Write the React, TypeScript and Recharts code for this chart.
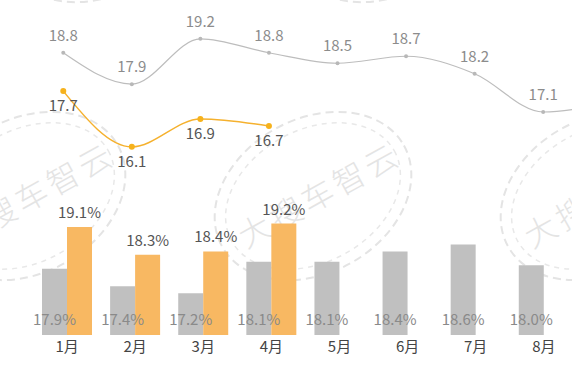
import React from "react";
import {
  ComposedChart,
  Bar,
  Line,
  XAxis,
  YAxis,
  LabelList,
} from "recharts";

// months (9月 sits just past the right edge, only its line is partly visible)
const months = ["1月", "2月", "3月", "4月", "5月", "6月", "7月", "8月", "9月"];
const visibleCount = 8;
const shownTicks = months.slice(0, visibleCount);
const lineGray = [18.8, 17.9, 19.2, 18.8, 18.5, 18.7, 18.2, 17.1, 17.4];
const lineOrange = [17.7, 16.1, 16.9, 16.7, null, null, null, null, null];
const barGray = [17.9, 17.4, 17.2, 18.1, 18.1, 18.4, 18.6, 18.0, null];
const barOrange = [19.1, 18.3, 18.4, 19.2, null, null, null, null, null];

const data = months.map((m, i) => ({
  month: m,
  lineGray: lineGray[i],
  lineGrayLabel: i < visibleCount ? lineGray[i] : null,
  lineOrange: lineOrange[i],
  barGray: barGray[i],
  barOrange: barOrange[i],
}));

const FONT = '"Noto Sans CJK SC", "Noto Sans", sans-serif';

// faint "大搜车智云" stamps in the background
const stamps = [
  { cx: 27, cy: 196, text: true },
  { cx: 313, cy: 196, text: true },
  { cx: 599, cy: 196, text: true },
  { cx: 100, cy: -82, text: false },
  { cx: 386, cy: -82, text: false },
  { cx: 672, cy: -82, text: false },
];

function Watermark() {
  return (
    <svg
      width={572}
      height={371}
      style={{ position: "absolute", left: 0, top: 0 }}
    >
      {stamps.map((s, i) => (
        <g key={i} transform={`translate(${s.cx},${s.cy}) rotate(-29)`}>
          <ellipse
            rx={104}
            ry={77}
            fill="none"
            stroke="#e4e4e4"
            strokeWidth={2}
            strokeDasharray="8 5"
          />
          <ellipse
            rx={93}
            ry={66}
            fill="none"
            stroke="#e8e8e8"
            strokeWidth={1.5}
            strokeDasharray="5 5"
          />
          {s.text && (
            <text
              x={6}
              y={0}
              textAnchor="middle"
              dominantBaseline="central"
              fontSize={32}
              letterSpacing={4}
              fill="#e4e4e4"
              fontFamily={FONT}
              fontWeight={300}
            >
              大搜车智云
            </text>
          )}
        </g>
      ))}
    </svg>
  );
}

const pct = (v: any) => (v == null ? "" : `${Number(v).toFixed(1)}%`);
const num = (v: any) => (v == null ? "" : Number(v).toFixed(1));

export default function App() {
  return (
    <div
      style={{
        position: "fixed",
        left: 0,
        top: 0,
        width: 572,
        height: 371,
        overflow: "hidden",
        background: "#fff",
        fontFamily: FONT,
      }}
    >
      <Watermark />
      <div style={{ position: "absolute", left: 0, top: 0 }}>
        <ComposedChart
          width={646}
          height={371}
          data={data}
          margin={{ top: 4, right: 0, bottom: 0, left: 29 }}
          barGap={0}
        >
          <XAxis
            xAxisId="bar"
            dataKey="month"
            padding={{ left: 4, right: 0 }}
            ticks={shownTicks}
            tickLine={false}
            axisLine={false}
            tickMargin={0}
            height={36}
            interval={0}
            tick={{ fill: "#444", fontSize: 15, fontFamily: FONT }}
          />
          <XAxis xAxisId="line" dataKey="month" hide />
          <YAxis yAxisId="bar" hide domain={[16, 25.5]} allowDataOverflow />
          <YAxis yAxisId="line" hide domain={[10.7, 20.2]} allowDataOverflow />

          <Bar
            xAxisId="bar"
            yAxisId="bar"
            dataKey="barGray"
            fill="#c0c0c0"
            barSize={25}
            isAnimationActive={false}
          >
            <LabelList
              dataKey="barGray"
              position="insideBottom"
              offset={10}
              formatter={pct}
              fill="#8a8a8a"
              fontSize={15}
              fontFamily={FONT}
            />
          </Bar>
          <Bar
            xAxisId="bar"
            yAxisId="bar"
            dataKey="barOrange"
            fill="#f8b862"
            barSize={25}
            isAnimationActive={false}
          >
            <LabelList
              dataKey="barOrange"
              position="top"
              offset={9}
              formatter={pct}
              fill="#555"
              fontSize={15}
              fontFamily={FONT}
            />
          </Bar>

          <Line
            xAxisId="line"
            yAxisId="line"
            type="monotone"
            dataKey="lineGray"
            stroke="#bdbdbd"
            strokeWidth={1.2}
            dot={{ r: 2, fill: "#b8b8b8", stroke: "none" }}
            activeDot={false}
            isAnimationActive={false}
          >
            <LabelList
              dataKey="lineGrayLabel"
              position="top"
              offset={12}
              formatter={num}
              fill="#8c8c8c"
              fontSize={15}
              fontFamily={FONT}
            />
          </Line>
          <Line
            xAxisId="line"
            yAxisId="line"
            type="monotone"
            dataKey="lineOrange"
            stroke="#f5b12e"
            strokeWidth={1.5}
            dot={{ r: 3, fill: "#f6b21c", stroke: "none" }}
            activeDot={false}
            connectNulls={false}
            isAnimationActive={false}
          >
            <LabelList
              dataKey="lineOrange"
              position="bottom"
              offset={9}
              formatter={num}
              fill="#555"
              fontSize={15}
              fontFamily={FONT}
            />
          </Line>
        </ComposedChart>
      </div>
    </div>
  );
}
